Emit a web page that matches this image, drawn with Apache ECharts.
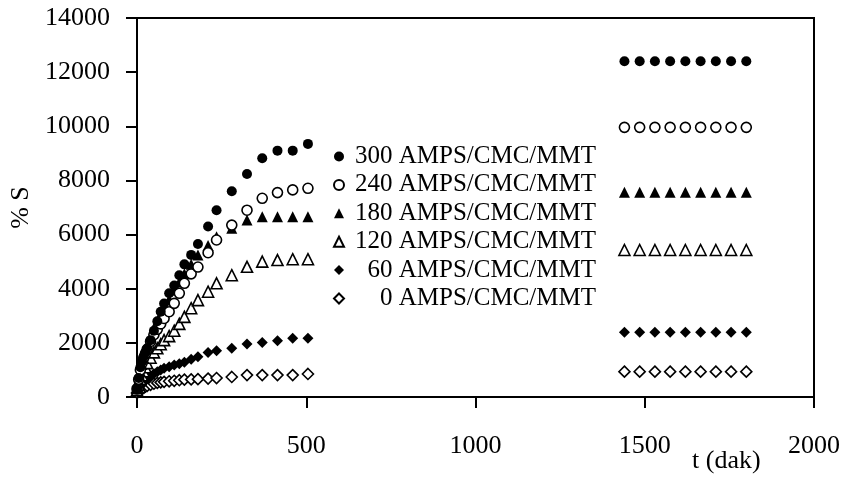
<!DOCTYPE html>
<html>
<head>
<meta charset="utf-8">
<script src="https://cdn.jsdelivr.net/npm/echarts@6/dist/echarts.min.js"></script>
<style>
  html, body { margin: 0; padding: 0; background: #fff; }
  #chart { width: 851px; height: 479px; }
</style>
</head>
<body>
<div id="chart"></div>
<script>
// Swelling time (min) for the first measurement run and the late readings
const timesEarly = [0, 5, 10, 15, 20, 25, 30, 40, 50, 60, 70, 80, 95, 110, 125, 140, 160, 180, 210, 235, 280, 325, 370, 415, 460, 505];
const timesLate = [1440, 1485, 1530, 1575, 1620, 1665, 1710, 1755, 1800];

// Series labels (AMPS content)
const seriesNames = ['300 AMPS/CMC/MMT', '240 AMPS/CMC/MMT', '180 AMPS/CMC/MMT', '120 AMPS/CMC/MMT', '60 AMPS/CMC/MMT', '0 AMPS/CMC/MMT'];

// % swelling values
const s300Early = [300, 700, 1100, 1300, 1500, 1650, 1800, 2100, 2450, 2800, 3150, 3450, 3830, 4120, 4500, 4900, 5250, 5650, 6300, 6900, 7600, 8240, 8820, 9100, 9100, 9350];
const s300Late = [12400, 12400, 12400, 12400, 12400, 12400, 12400, 12400, 12400];
const s240Early = [300, 650, 1000, 1250, 1450, 1600, 1750, 2050, 2300, 2500, 2700, 2900, 3150, 3460, 3830, 4200, 4550, 4800, 5330, 5800, 6350, 6900, 7340, 7550, 7650, 7710];
const s240Late = [9960, 9960, 9960, 9960, 9960, 9960, 9960, 9960, 9960];
const s180Early = [300, 650, 950, 1200, 1450, 1650, 1850, 2200, 2500, 2800, 3050, 3300, 3600, 3950, 4250, 4550, 4900, 5250, 5600, 5920, 6230, 6540, 6660, 6660, 6660, 6660];
const s180Late = [7560, 7560, 7560, 7560, 7560, 7560, 7560, 7560, 7560];
const s120Early = [250, 450, 650, 800, 950, 1100, 1250, 1450, 1650, 1800, 1950, 2100, 2250, 2450, 2700, 2960, 3280, 3580, 3890, 4200, 4500, 4810, 5000, 5060, 5090, 5090];
const s120Late = [5430, 5430, 5430, 5430, 5430, 5430, 5430, 5430, 5430];
const s60Early = [200, 300, 400, 480, 550, 620, 680, 780, 860, 930, 1000, 1060, 1120, 1180, 1230, 1280, 1390, 1490, 1640, 1710, 1800, 1960, 2010, 2080, 2170, 2170];
const s60Late = [2390, 2390, 2390, 2390, 2390, 2390, 2390, 2390, 2390];
const s0Early = [150, 200, 250, 300, 340, 380, 410, 450, 490, 520, 540, 560, 580, 600, 620, 640, 650, 660, 680, 700, 740, 810, 810, 810, 810, 850];
const s0Late = [935, 935, 935, 935, 935, 935, 935, 935, 935];

// Axis ticks
const xTicks = [0, 500, 1000, 1500, 2000];
const yTicks = [0, 2000, 4000, 6000, 8000, 10000, 12000, 14000];

const valueSets = [
  [s300Early, s300Late],
  [s240Early, s240Late],
  [s180Early, s180Late],
  [s120Early, s120Late],
  [s60Early, s60Late],
  [s0Early, s0Late]
];

// Marker look per series: shape and filled/open
const markerStyles = [
  { symbol: 'circle', filled: true, size: 10 },
  { symbol: 'circle', filled: false, size: 10 },
  { symbol: 'triangle', filled: true, size: 11 },
  { symbol: 'triangle', filled: false, size: 11 },
  { symbol: 'diamond', filled: true, size: 11 },
  { symbol: 'diamond', filled: false, size: 11 }
];

function pairUp(ts, vs) {
  return ts.map((t, i) => [t, vs[i]]);
}

const FONT = '"Liberation Serif", "Times New Roman", serif';

const series = seriesNames.map((name, k) => {
  const m = markerStyles[k];
  return {
    name: name,
    type: 'scatter',
    symbol: m.symbol,
    symbolSize: m.size,
    z: 10 - k,
    itemStyle: m.filled
      ? { color: '#000', borderColor: '#000', borderWidth: 0, opacity: 1 }
      : { color: '#fff', borderColor: '#000', borderWidth: 1.6, opacity: 1 },
    emphasis: { disabled: true },
    data: pairUp(timesEarly, valueSets[k][0]).concat(pairUp(timesLate, valueSets[k][1]))
  };
});

// Legend numbers are right-aligned on the digit column
const digitPad = { 3: 6, 2: 18.5, 1: 31 };

const chart = echarts.init(document.getElementById('chart'), null, { renderer: 'canvas' });
chart.setOption({
  backgroundColor: '#fff',
  animation: false,
  textStyle: { fontFamily: FONT },
  grid: {
    left: 137, right: 37, top: 18, bottom: 82,
    outerBoundsMode: 'none',
    containLabel: false,
    show: true, borderColor: '#000', borderWidth: 2, backgroundColor: 'transparent'
  },
  legend: {
    orient: 'vertical',
    left: 333,
    top: 144,
    padding: 0,
    itemWidth: 10,
    itemHeight: 10,
    itemGap: 3.4,
    itemTextGap: 12,
    data: seriesNames,
    formatter: function (name) {
      const parts = name.split(' ');
      return '{n' + parts[0].length + '|' + parts[0] + '}{t| ' + parts.slice(1).join(' ') + '}';
    },
    textStyle: {
      fontFamily: FONT,
      color: '#000',
      rich: {
        n3: { fontFamily: FONT, fontSize: 25, color: '#000', lineHeight: 28, padding: [0, 0, 0, digitPad[3]] },
        n2: { fontFamily: FONT, fontSize: 25, color: '#000', lineHeight: 28, padding: [0, 0, 0, digitPad[2]] },
        n1: { fontFamily: FONT, fontSize: 25, color: '#000', lineHeight: 28, padding: [0, 0, 0, digitPad[1]] },
        t: { fontFamily: FONT, fontSize: 25, color: '#000', lineHeight: 28 }
      }
    }
  },
  graphic: [{
    type: 'text',
    left: 692,
    top: 448,
    style: { text: 't (dak)', font: '26px "Liberation Serif", "Times New Roman", serif', fill: '#000' },
    silent: true
  }],
  xAxis: {
    type: 'value',
    min: xTicks[0],
    max: xTicks[xTicks.length - 1],
    interval: 500,
    axisLine: { show: true, onZero: false, lineStyle: { color: '#000', width: 2 } },
    axisTick: { show: true, inside: false, length: 11, lineStyle: { color: '#000', width: 2 } },
    axisLabel: { fontFamily: FONT, fontSize: 26, color: '#000', margin: 36, formatter: v => String(v) },
    splitLine: { show: false }
  },
  yAxis: {
    type: 'value',
    min: yTicks[0],
    max: yTicks[yTicks.length - 1],
    interval: 2000,
    name: '% S',
    nameLocation: 'middle',
    nameRotate: 90,
    nameGap: 99,
    nameTextStyle: { fontFamily: FONT, fontSize: 26, color: '#000' },
    axisLine: { show: true, onZero: false, lineStyle: { color: '#000', width: 2 } },
    axisTick: { show: true, inside: false, length: 11, lineStyle: { color: '#000', width: 2 } },
    axisLabel: { fontFamily: FONT, fontSize: 26, color: '#000', margin: 27, formatter: v => String(v) },
    splitLine: { show: false }
  },
  series: series
});
</script>
</body>
</html>
